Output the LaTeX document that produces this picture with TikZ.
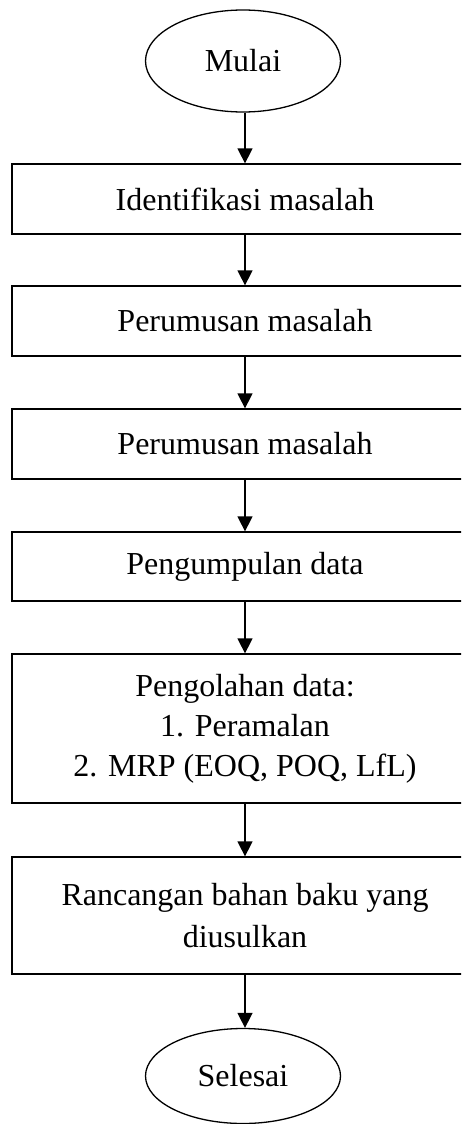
\documentclass[tikz,border=0pt]{standalone}
\usepackage{fontspec}
\setmainfont{Liberation Serif}
\usetikzlibrary{arrows.meta,shapes.geometric}
\begin{document}
\begin{tikzpicture}[x=1pt,y=-1pt,
  txt/.style={font=\fontsize{32}{41}\selectfont},
  stepbox/.style={draw,line width=1.3pt,rectangle,minimum width=466pt,inner sep=0pt,align=center,txt},
  term/.style={draw,line width=1.3pt,ellipse,minimum width=195pt,inner sep=0pt,txt},
  flow/.style={-{Triangle[length=15pt,width=15pt]},line width=1.5pt}]
\useasboundingbox (0,0) rectangle (461,1124);
\clip (0,0) rectangle (461,1124);
\fill[white] (0,0) rectangle (461,1124);
\node[term,minimum height=102pt] (mulai) at (243,61) {Mulai};
\node[stepbox,minimum height=70pt] (b1) at (245,199) {Identifikasi masalah};
\node[stepbox,minimum height=70pt] (b2) at (245,321) {Perumusan masalah};
\node[stepbox,minimum height=70pt] (b3) at (245,444) {Perumusan masalah};
\node[stepbox,minimum height=69pt] (b4) at (245,566.5) {Pengumpulan data};
\node[stepbox,minimum height=149pt,font=\fontsize{32}{40}\selectfont] (b5) at (245,728.5) {Pengolahan data:\\1. Peramalan\\2. MRP (EOQ, POQ, LfL)};
\node[stepbox,minimum height=117pt,font=\fontsize{32}{42}\selectfont] (b6) at (245,915.5) {Rancangan bahan baku yang\\diusulkan};
\node[term,minimum height=95pt] (selesai) at (243,1076) {Selesai};
\draw[flow] (mulai.south -| b1.north) -- (b1.north);
\draw[flow] (b1) -- (b2);
\draw[flow] (b2) -- (b3);
\draw[flow] (b3) -- (b4);
\draw[flow] (b4) -- (b5);
\draw[flow] (b5) -- (b6);
\draw[flow] (b6.south) -- (b6.south |- selesai.north);
\end{tikzpicture}
\end{document}
